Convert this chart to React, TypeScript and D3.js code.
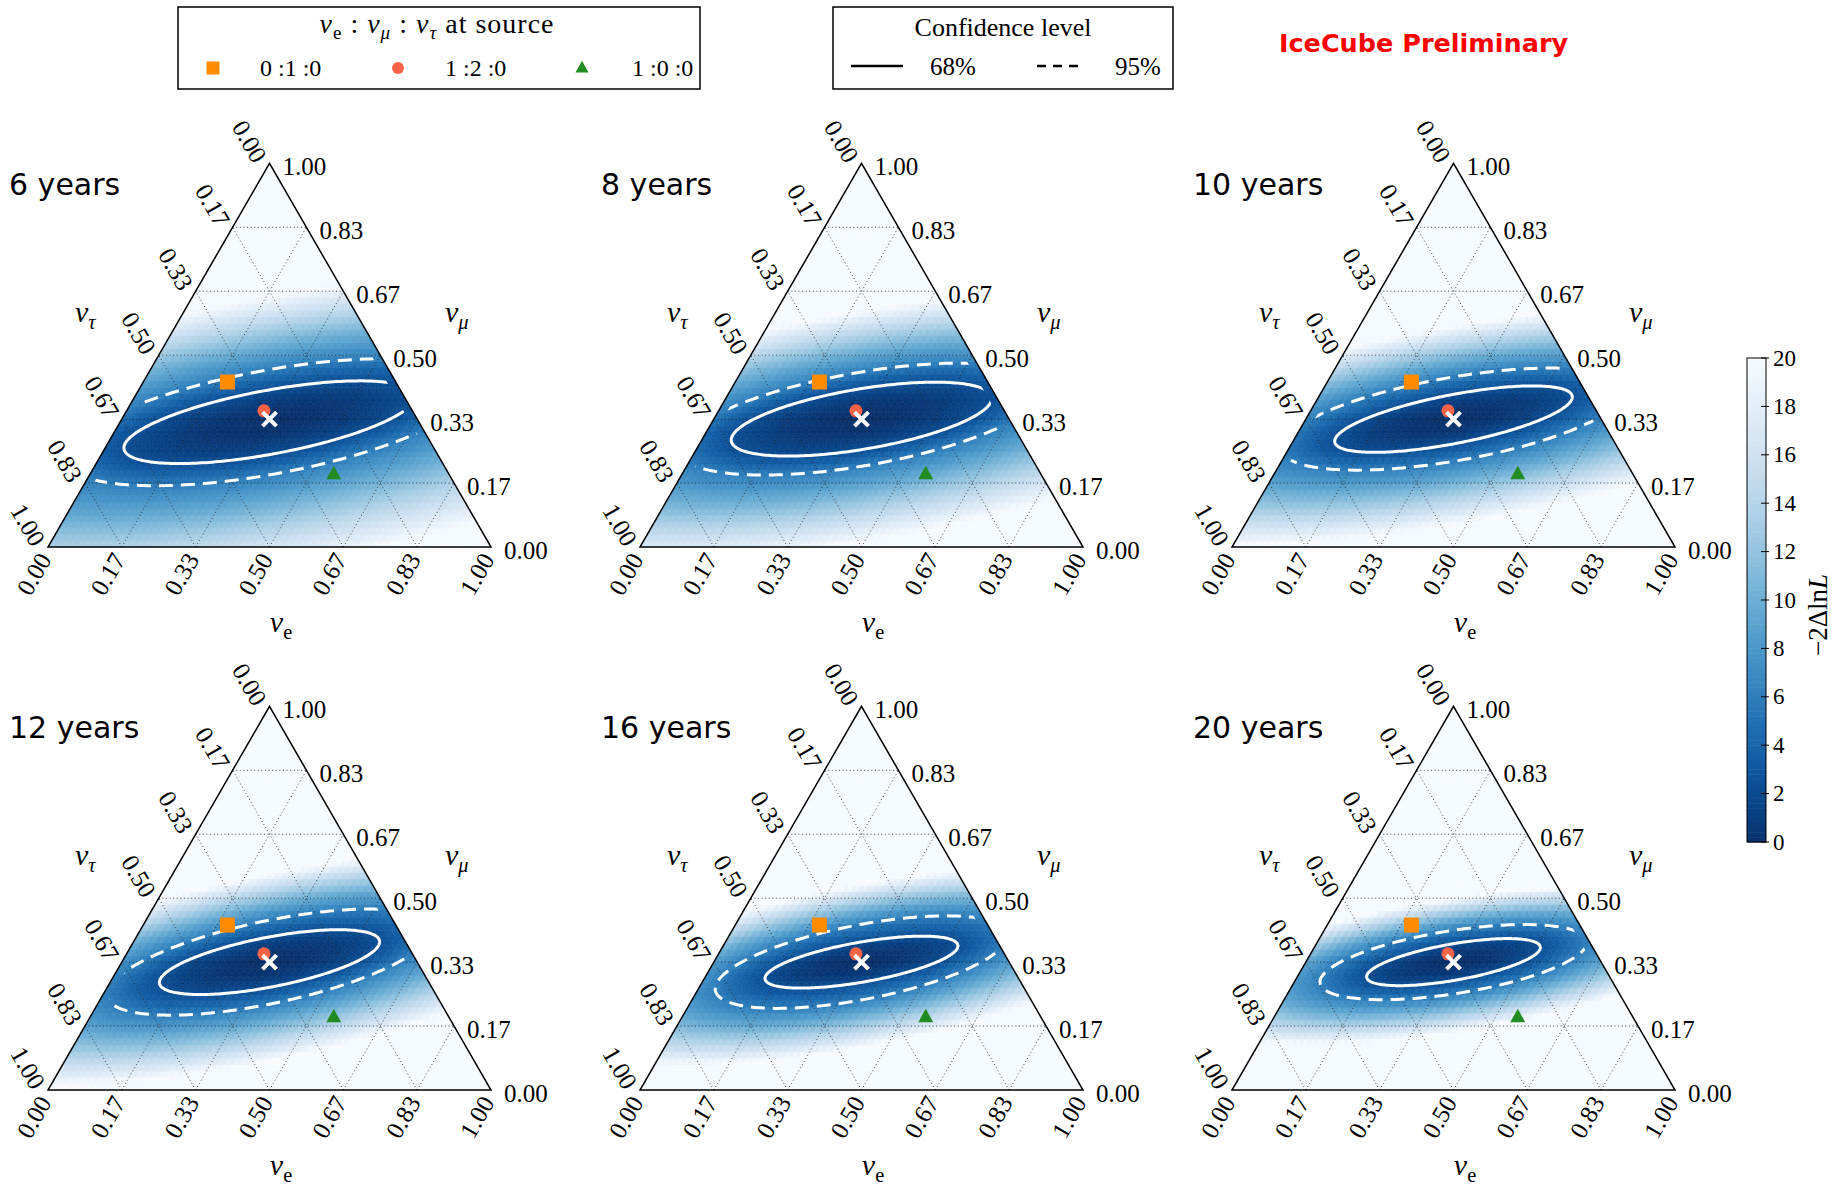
import React, { useMemo } from 'react';
import * as d3 from 'd3';

const SQ3 = Math.sqrt(3);

// ---------------- data ----------------
const panelYears = ['6 years', '8 years', '10 years', '12 years', '16 years', '20 years'];
// contour ellipses around the best fit: [semi-major, semi-minor, tilt in degrees], in units of the triangle side
const contour68 = [
  [0.334, 0.072, 10.5],
  [0.298, 0.068, 9.6],
  [0.273, 0.055, 11],
  [0.253, 0.056, 11],
  [0.221, 0.045, 10],
  [0.199, 0.041, 10],
];
const contour95 = [
  [0.47, 0.117, 10.5],
  [0.418, 0.105, 10],
  [0.395, 0.094, 10],
  [0.375, 0.093, 12],
  [0.336, 0.084, 11],
  [0.305, 0.071, 9],
];
const centerShift = [0.007, 0, 0, 0, 0, 0];
// distance (in units of the 95% contour) where -2ΔlnL reaches 20, above and below the best fit
const fadeUp = [2.4, 2.3, 2.2, 2.1, 2.05, 2.0];
const fadeDown = [2.8, 2.6, 2.5, 2.35, 2.25, 2.2];
const bestFitE = 1 / 3;
const bestFitMu = 1 / 3;
const sourceLabels = ['0 :1 :0', '1 :2 :0', '1 :0 :0'];
const sourceE = [0.19, 0.31, 0.55];
const sourceMu = [0.43, 0.355, 0.19];
const sourceColors = ['#ff8c00', '#ff6347', '#228b22'];
const sourceShapes = ['square', 'circle', 'triangle'];
const ternTicks = [0, 1 / 6, 2 / 6, 3 / 6, 4 / 6, 5 / 6, 1];
const ternTickLabels = ['0.00', '0.17', '0.33', '0.50', '0.67', '0.83', '1.00'];
const cbTicks = [0, 2, 4, 6, 8, 10, 12, 14, 16, 18, 20];
const LEVEL68 = 2.3;
const LEVEL95 = 5.99;
const VMAX = 20;

// ---------------- layout ----------------
const W = 1835;
const H = 1185;
const SIDE = 443;
const COL_X = [48, 640, 1232];
const ROW_BASE = [547, 1090];
const N = 60;
const SERIF = '"Liberation Serif", "DejaVu Serif", serif';
const SANS = '"DejaVu Sans", sans-serif';

const color = d3.scaleSequential(d3.interpolateBlues).domain([VMAX, 0]).clamp(true);

function ellCoords(dx: number, dy: number, el: number[]) {
  const th = (el[2] * Math.PI) / 180;
  const c = Math.cos(th), s = Math.sin(th);
  const al = (dx * c - dy * s) / el[0];
  const ac = (dx * s + dy * c) / el[1];
  return [al, ac];
}

function fieldValue(p: number, u: number, v: number) {
  const cu = bestFitE + bestFitMu / 2;
  const cv = (bestFitMu * SQ3) / 2;
  const dx = u - cu;
  const dy = cv - v - centerShift[p];
  const [a68, c68] = ellCoords(dx, dy, contour68[p]);
  const [a95, c95] = ellCoords(dx, dy, contour95[p]);
  const r68 = Math.hypot(a68, c68);
  const r95 = Math.hypot(a95, c95);
  if (r68 <= 1) return LEVEL68 * r68 * r68;
  if (r95 <= 1) {
    const k = Math.log(LEVEL95 / LEVEL68) / Math.log(Math.max(r68 / r95, 1.01));
    return LEVEL68 * Math.pow(r68, k);
  }
  const w = (1 + c95 / r95) / 2; // 0 above, 1 below
  const kUp = Math.log(VMAX / LEVEL95) / Math.log(fadeUp[p]);
  const kDown = Math.log(VMAX / LEVEL95) / Math.log(fadeDown[p]);
  const k2 = kUp * (1 - w) + kDown * w;
  return LEVEL95 * Math.pow(r95, k2);
}

function nuSpans(sub: string, subItalic: boolean, size: number, key: string, lead = 0) {
  return [
    <tspan key={key + 'n'} fontStyle="italic" dy={lead}>
      ν
    </tspan>,
    <tspan key={key + 's'} fontSize={size * 0.68} dy={size * 0.22} fontStyle={subItalic ? 'italic' : 'normal'}>
      {sub}
    </tspan>,
  ];
}

function Marker({ shape, x, y, fill, s }: { shape: string; x: number; y: number; fill: string; s: number }) {
  if (shape === 'square') return <rect x={x - s / 2} y={y - s / 2} width={s} height={s} fill={fill} />;
  if (shape === 'circle') return <circle cx={x} cy={y} r={s / 2} fill={fill} />;
  const h = s * 0.9;
  return (
    <path
      d={`M${x},${y - h * 0.62}L${x + s / 2},${y + h * 0.38}L${x - s / 2},${y + h * 0.38}Z`}
      fill={fill}
    />
  );
}

function Panel({ p }: { p: number }) {
  const col = p % 3;
  const row = Math.floor(p / 3);
  const x0 = COL_X[col];
  const base = ROW_BASE[row];
  const xs = d3.scaleLinear().domain([0, 1]).range([x0, x0 + SIDE]);
  const ys = d3.scaleLinear().domain([0, SQ3 / 2]).range([base, base - (SIDE * SQ3) / 2]);
  const pt = (e: number, mu: number): [number, number] => [xs(e + mu / 2), ys((mu * SQ3) / 2)];

  const cells = useMemo(() => {
    const out: { d: string; c: string }[] = [];
    const tri = (a: [number, number], b: [number, number], c: [number, number]) => {
      const A = pt(a[0], a[1]), B = pt(b[0], b[1]), C = pt(c[0], c[1]);
      return `M${A[0].toFixed(2)},${A[1].toFixed(2)}L${B[0].toFixed(2)},${B[1].toFixed(2)}L${C[0].toFixed(2)},${C[1].toFixed(2)}Z`;
    };
    for (let i = 0; i < N; i++) {
      for (let j = 0; j < N - i; j++) {
        const ce = (i + 1 / 3) / N, cm = (j + 1 / 3) / N;
        const val = fieldValue(p, ce + cm / 2, (cm * SQ3) / 2);
        out.push({ d: tri([i / N, j / N], [(i + 1) / N, j / N], [i / N, (j + 1) / N]), c: color(val) as string });
        if (i + j <= N - 2) {
          const de = (i + 2 / 3) / N, dm = (j + 2 / 3) / N;
          const v2 = fieldValue(p, de + dm / 2, (dm * SQ3) / 2);
          out.push({
            d: tri([(i + 1) / N, j / N], [i / N, (j + 1) / N], [(i + 1) / N, (j + 1) / N]),
            c: color(v2) as string,
          });
        }
      }
    }
    return out;
  }, [p]);

  const grid: [number, number][][] = [];
  ternTicks.slice(1, 6).forEach((t) => {
    grid.push([pt(0, t), pt(1 - t, t)]);
    grid.push([pt(t, 0), pt(t, 1 - t)]);
    grid.push([pt(1 - t, 0), pt(0, 1 - t)]);
  });

  const ellipsePath = (el: number[]) => {
    const th = (el[2] * Math.PI) / 180;
    const c = Math.cos(th), s = Math.sin(th);
    const cu = bestFitE + bestFitMu / 2;
    const cv = (bestFitMu * SQ3) / 2;
    const pts: [number, number][] = d3.range(0, 241).map((k) => {
      const phi = (k / 240) * 2 * Math.PI;
      const al = el[0] * Math.cos(phi), ac = el[1] * Math.sin(phi);
      const dx = al * c + ac * s;
      const dy = -al * s + ac * c;
      return [xs(cu + dx), ys(cv - dy - centerShift[p])];
    });
    return d3.line()(pts) as string;
  };

  const f = 0.94;
  const cen = pt(1 / 3, 1 / 3);
  const corners = [pt(0, 0), pt(1, 0), pt(0, 1)].map(([x, y]) => [cen[0] + (x - cen[0]) * f, cen[1] + (y - cen[1]) * f]);
  const clipId = `clip${p}`;
  const outline = [pt(0, 0), pt(1, 0), pt(0, 1)];
  const bf = pt(bestFitE, bestFitMu);

  return (
    <g>
      <defs>
        <clipPath id={clipId}>
          <polygon points={corners.map((q) => q.join(',')).join(' ')} />
        </clipPath>
      </defs>
      <g>
        {cells.map((c, i) => (
          <path key={i} d={c.d} fill={c.c} stroke={c.c} strokeWidth={0.6} />
        ))}
      </g>
      <g>
        {grid.map((g, i) => (
          <line
            key={i}
            x1={g[0][0]}
            y1={g[0][1]}
            x2={g[1][0]}
            y2={g[1][1]}
            stroke="#222"
            strokeWidth={1}
            strokeDasharray="1,2.6"
            opacity={0.85}
          />
        ))}
      </g>
      <path
        d={`M${outline.map((q) => q.join(',')).join('L')}Z`}
        fill="none"
        stroke="#000"
        strokeWidth={1.5}
        strokeLinejoin="miter"
      />
      <g clipPath={`url(#${clipId})`}>
        <path d={ellipsePath(contour68[p])} fill="none" stroke="#fff" strokeWidth={3} />
        <path d={ellipsePath(contour95[p])} fill="none" stroke="#fff" strokeWidth={3} strokeDasharray="14,8" />
      </g>
      {sourceShapes.map((sh, i) => {
        const [x, y] = pt(sourceE[i], sourceMu[i]);
        return <Marker key={i} shape={sh} x={x} y={y} fill={sourceColors[i]} s={sh === 'circle' ? 13 : 15} />;
      })}
      <g stroke="#fff" strokeWidth={4} strokeLinecap="butt">
        <line x1={bf[0] - 7} y1={bf[1] - 7} x2={bf[0] + 7} y2={bf[1] + 7} />
        <line x1={bf[0] - 7} y1={bf[1] + 7} x2={bf[0] + 7} y2={bf[1] - 7} />
      </g>
      <g fontFamily={SERIF} fontSize={25} fill="#000">
        {ternTicks.map((t, i) => {
          const [rx, ry] = pt(1 - t, t);
          const [lx, ly] = pt(0, 1 - t);
          const [bx, by] = pt(t, 0);
          return (
            <g key={i}>
              <text x={rx + 13} y={ry + 3} dominantBaseline="central" textAnchor="start">
                {ternTickLabels[i]}
              </text>
              <text
                x={lx - 20}
                y={ly - 22}
                dominantBaseline="central"
                textAnchor="middle"
                transform={`rotate(60 ${lx - 20} ${ly - 22})`}
              >
                {ternTickLabels[i]}
              </text>
              <text
                x={bx - 14}
                y={by + 27}
                dominantBaseline="central"
                textAnchor="middle"
                transform={`rotate(-60 ${bx - 14} ${by + 27})`}
              >
                {ternTickLabels[i]}
              </text>
            </g>
          );
        })}
      </g>
      <g fontFamily={SERIF} fontSize={30} fill="#000">
        <text x={x0 + 233} y={base + 85} textAnchor="middle">
          {nuSpans('e', false, 30, 'e')}
        </text>
        <text x={x0 + 397} y={base - 225} textAnchor="start">
          {nuSpans('μ', true, 30, 'm')}
        </text>
        <text x={x0 + 27} y={base - 225} textAnchor="start">
          {nuSpans('τ', true, 30, 't')}
        </text>
      </g>
      <text x={x0 - 39} y={base - 352} fontFamily={SANS} fontSize={30} fill="#000">
        {panelYears[p]}
      </text>
    </g>
  );
}

function Colorbar() {
  const top = 358, bottom = 842, left = 1747, width = 19;
  const cb = d3.scaleLinear().domain([0, VMAX]).range([bottom, top]);
  const steps = d3.range(0, VMAX, 0.2);
  return (
    <g>
      {steps.map((v, i) => (
        <rect
          key={i}
          x={left}
          y={cb(v + 0.2)}
          width={width}
          height={cb(v) - cb(v + 0.2) + 0.5}
          fill={color(v + 0.1) as string}
        />
      ))}
      <rect x={left} y={top} width={width} height={bottom - top} fill="none" stroke="#000" strokeWidth={1} />
      {cbTicks.map((t) => (
        <g key={t}>
          <line x1={left + width - 5} x2={left + width + 3} y1={cb(t)} y2={cb(t)} stroke="#000" strokeWidth={1} />
          <text x={left + width + 7} y={cb(t)} dominantBaseline="central" fontFamily={SERIF} fontSize={23}>
            {t}
          </text>
        </g>
      ))}
      <text
        x={1818}
        y={615}
        fontFamily={SERIF}
        fontSize={27}
        textAnchor="middle"
        dominantBaseline="central"
        transform="rotate(-90 1818 615)"
      >
        −2Δln<tspan fontStyle="italic">L</tspan>
      </text>
    </g>
  );
}

function Legends() {
  const my = 68;
  const mx = [213, 398, 582];
  const tx = [260, 445, 632];
  const ts = 28;
  const sh = ts * 0.22;
  return (
    <g fontFamily={SERIF} fill="#000">
      <rect x={178} y={7} width={522} height={82} fill="#fff" stroke="#000" strokeWidth={1.5} />
      <text x={437} y={33} textAnchor="middle" fontSize={ts} letterSpacing={1}>
        {nuSpans('e', false, ts, 'a')}
        <tspan dy={-sh}> : </tspan>
        {nuSpans('μ', true, ts, 'b')}
        <tspan dy={-sh}> : </tspan>
        {nuSpans('τ', true, ts, 'c')}
        <tspan dy={-sh}> at source</tspan>
      </text>
      {sourceShapes.map((s, i) => (
        <g key={i}>
          <Marker shape={s} x={mx[i]} y={my} fill={sourceColors[i]} s={s === 'circle' ? 12 : 13} />
          <text x={tx[i]} y={76} fontSize={24}>
            {sourceLabels[i]}
          </text>
        </g>
      ))}
      <rect x={833} y={7} width={340} height={82} fill="#fff" stroke="#000" strokeWidth={1.5} />
      <text x={1003} y={36} textAnchor="middle" fontSize={26}>
        Confidence level
      </text>
      <line x1={851} x2={903} y1={66} y2={66} stroke="#000" strokeWidth={2.5} />
      <text x={930} y={75} fontSize={25}>
        68%
      </text>
      <line x1={1037} x2={1081} y1={66} y2={66} stroke="#000" strokeWidth={2.5} strokeDasharray="9,7" />
      <text x={1115} y={75} fontSize={25}>
        95%
      </text>
      <text x={1279} y={52} fontFamily={SANS} fontWeight="bold" fontSize={25.5} fill="#ff0000">
        IceCube Preliminary
      </text>
    </g>
  );
}

export default function App() {
  return (
    <svg
      width={W}
      height={H}
      viewBox={`0 0 ${W} ${H}`}
      style={{ position: 'absolute', left: 0, top: 0, background: '#fff' }}
    >
      <rect x={0} y={0} width={W} height={H} fill="#fff" />
      {panelYears.map((_, p) => (
        <Panel key={p} p={p} />
      ))}
      <Colorbar />
      <Legends />
    </svg>
  );
}
